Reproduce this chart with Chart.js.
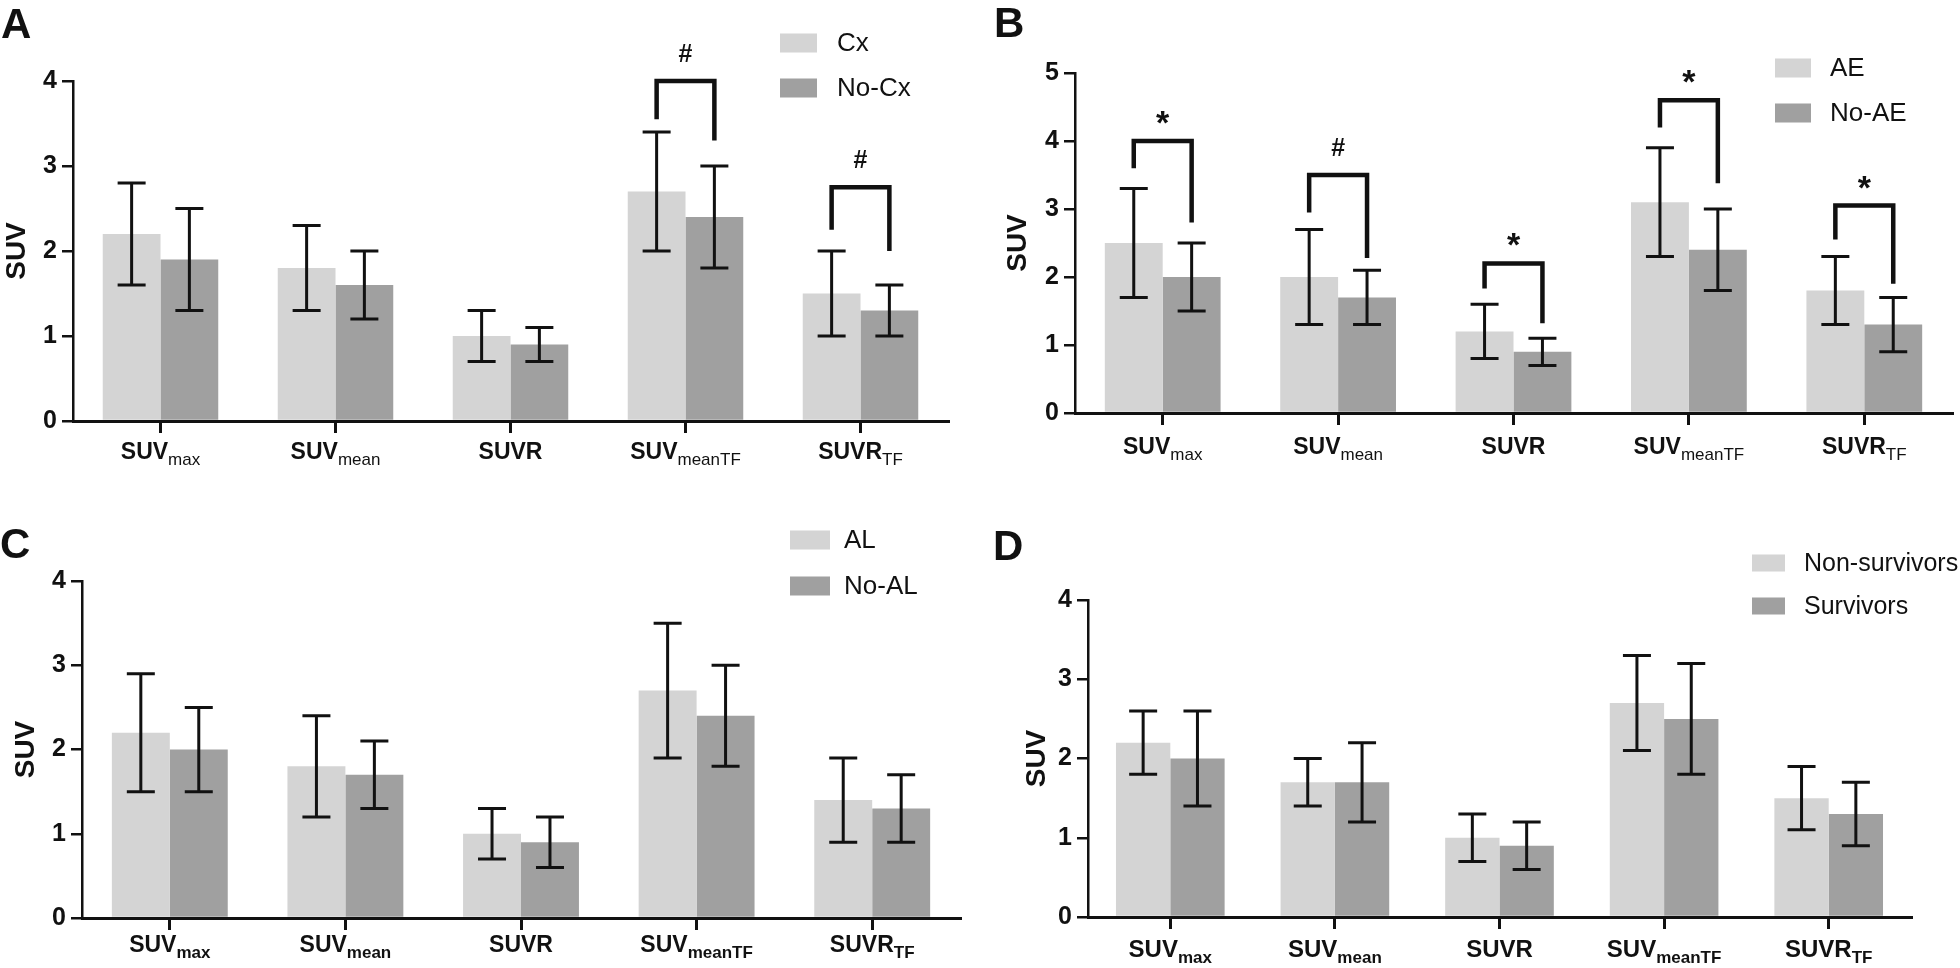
<!DOCTYPE html>
<html>
<head>
<meta charset="utf-8">
<script src="https://cdn.jsdelivr.net/npm/chart.js@4.4.0/dist/chart.umd.min.js"></script>
<style>
  body { margin: 0; background: #fff; width: 1960px; height: 968px; position: relative; overflow: hidden; }
  canvas { position: absolute; }
</style>
</head>
<body>
<canvas id="chart-a" width="980" height="484" style="left:0;top:0"></canvas>
<canvas id="chart-b" width="980" height="484" style="left:980px;top:0"></canvas>
<canvas id="chart-c" width="980" height="484" style="left:0;top:484px"></canvas>
<canvas id="chart-d" width="980" height="484" style="left:980px;top:484px"></canvas>
<script>
// x categories (main text + subscript)
const categories = ['SUV', 'SUV', 'SUVR', 'SUV', 'SUVR'];
const categorySubs = ['max', 'mean', '', 'meanTF', 'TF'];

// panel A
const cxMean = [2.2, 1.8, 1.0, 2.7, 1.5];
const cxSd = [0.6, 0.5, 0.3, 0.7, 0.5];
const noCxMean = [1.9, 1.6, 0.9, 2.4, 1.3];
const noCxSd = [0.6, 0.4, 0.2, 0.6, 0.3];
const cxBracketTop = [null, null, null, 4.0, 2.75];
const cxBracketLeft = [null, null, null, 3.55, 2.25];
const cxBracketRight = [null, null, null, 3.3, 2.0];
const cxMarks = ['', '', '', '#', '#'];

// panel B
const aeMean = [2.5, 2.0, 1.2, 3.1, 1.8];
const aeSd = [0.8, 0.7, 0.4, 0.8, 0.5];
const noAeMean = [2.0, 1.7, 0.9, 2.4, 1.3];
const noAeSd = [0.5, 0.4, 0.2, 0.6, 0.4];
const aeBracketTop = [4.0, 3.5, 2.2, 4.6, 3.05];
const aeBracketLeft = [3.6, 2.95, 1.83, 4.2, 2.55];
const aeBracketRight = [2.8, 2.28, 1.32, 3.38, 1.9];
const aeMarks = ['*', '#', '*', '*', '*'];

// panel C
const alMean = [2.2, 1.8, 1.0, 2.7, 1.4];
const alSd = [0.7, 0.6, 0.3, 0.8, 0.5];
const noAlMean = [2.0, 1.7, 0.9, 2.4, 1.3];
const noAlSd = [0.5, 0.4, 0.3, 0.6, 0.4];

// panel D
const nonSurvMean = [2.2, 1.7, 1.0, 2.7, 1.5];
const nonSurvSd = [0.4, 0.3, 0.3, 0.6, 0.4];
const survMean = [2.0, 1.7, 0.9, 2.5, 1.3];
const survSd = [0.6, 0.5, 0.3, 0.7, 0.4];

const LIGHT = '#d4d4d4';
const DARK = '#a0a0a0';
const INK = '#111';
const FONT = "'Liberation Sans', Arial, sans-serif";

Chart.defaults.font.family = FONT;
Chart.defaults.color = INK;

function decorPlugin(p) {
    return {
        id: 'decor',
        afterDatasetsDraw(chart) {
            const ctx = chart.ctx;
            const y = chart.scales.y;
            const x = chart.scales.x;
            const area = chart.chartArea;
            ctx.save();

            // error bars
            ctx.strokeStyle = INK;
            ctx.lineWidth = 3;
            chart.data.datasets.forEach((ds, i) => {
                chart.getDatasetMeta(i).data.forEach((bar, j) => {
                    const hi = y.getPixelForValue(ds.data[j] + ds.sd[j]);
                    const lo = y.getPixelForValue(ds.data[j] - ds.sd[j]);
                    ctx.beginPath();
                    ctx.moveTo(bar.x, hi); ctx.lineTo(bar.x, lo);
                    ctx.moveTo(bar.x - 14, hi); ctx.lineTo(bar.x + 14, hi);
                    ctx.moveTo(bar.x - 14, lo); ctx.lineTo(bar.x + 14, lo);
                    ctx.stroke();
                });
            });

            // significance brackets
            if (p.brackets) {
                const b = p.brackets;
                const m0 = chart.getDatasetMeta(0).data;
                const m1 = chart.getDatasetMeta(1).data;
                ctx.lineWidth = 4.5;
                ctx.lineJoin = 'miter';
                ctx.fillStyle = INK;
                ctx.textAlign = 'center';
                b.top.forEach((t, j) => {
                    if (t == null) return;
                    const xl = m0[j].x, xr = m1[j].x;
                    const yt = y.getPixelForValue(t);
                    ctx.beginPath();
                    ctx.moveTo(xl, y.getPixelForValue(b.left[j]));
                    ctx.lineTo(xl, yt);
                    ctx.lineTo(xr, yt);
                    ctx.lineTo(xr, y.getPixelForValue(b.right[j]));
                    ctx.stroke();
                    if (b.marks[j] === '*') {
                        ctx.font = 'bold 34px ' + FONT;
                        ctx.fillText('*', (xl + xr) / 2, yt - 7);
                    } else {
                        ctx.font = 'bold 25px ' + FONT;
                        ctx.fillText(b.marks[j], (xl + xr) / 2, yt - 19);
                    }
                });
            }

            // x labels with subscripts
            ctx.fillStyle = INK;
            ctx.textAlign = 'left';
            ctx.textBaseline = 'alphabetic';
            const mainFont = 'bold ' + p.xFont + 'px ' + FONT;
            const subFont = p.subWeight + ' ' + p.subFont + 'px ' + FONT;
            categories.forEach((lab, i) => {
                const cx = x.getPixelForValue(i);
                ctx.font = mainFont;
                const w1 = ctx.measureText(lab).width;
                ctx.font = subFont;
                const w2 = ctx.measureText(categorySubs[i]).width;
                const x0 = cx - (w1 + w2) / 2;
                const by = area.bottom + p.xLabelOffset;
                ctx.font = mainFont;
                ctx.fillText(lab, x0, by);
                ctx.font = subFont;
                ctx.fillText(categorySubs[i], x0 + w1, by + 6);
            });

            // legend
            const lg = p.legend;
            chart.data.datasets.forEach((ds, i) => {
                const cy = lg.y + i * lg.gap;
                ctx.fillStyle = ds.backgroundColor;
                ctx.fillRect(lg.boxX, cy - lg.boxH / 2, lg.boxW, lg.boxH);
                ctx.fillStyle = INK;
                ctx.font = lg.font + 'px ' + FONT;
                ctx.textBaseline = 'middle';
                ctx.fillText(ds.label, lg.textX, cy + 1);
            });

            // panel letter
            ctx.textBaseline = 'alphabetic';
            ctx.font = 'bold 42px ' + FONT;
            ctx.fillText(p.letter, p.letterX, p.letterY);
            ctx.restore();
        }
    };
}

function makePanel(id, p) {
    const canvas = document.getElementById(id);
    if (!canvas) return;
    new Chart(canvas, {
        type: 'bar',
        data: {
            labels: categories.map((c, i) => c + categorySubs[i]),
            datasets: p.series.map(s => ({
                label: s.label,
                data: s.mean,
                sd: s.sd,
                backgroundColor: s.color,
                borderWidth: 0,
                categoryPercentage: 0.66,
                barPercentage: 1.0
            }))
        },
        options: {
            responsive: false,
            animation: false,
            layout: { padding: { top: p.area.top, right: 980 - p.area.right, left: 0, bottom: 0 } },
            plugins: { legend: { display: false }, tooltip: { enabled: false } },
            scales: {
                x: {
                    z: 1,
                    offset: true,
                    grid: { offset: false, drawOnChartArea: false, drawTicks: true, tickLength: 12, color: INK, lineWidth: 3 },
                    border: { display: true, color: INK, width: 3 },
                    ticks: { display: false },
                    afterFit: s => { s.height = 484 - p.area.bottom; }
                },
                y: {
                    z: 1,
                    min: 0,
                    max: p.yMax,
                    grid: { drawOnChartArea: false, drawTicks: true, tickLength: 11, color: INK, lineWidth: 2.5 },
                    border: { display: true, color: INK, width: 2.5 },
                    ticks: { stepSize: 1, padding: 5, color: INK, font: { size: 25, weight: 'bold' } },
                    title: { display: true, text: 'SUV', color: INK, font: { size: 28, weight: 'bold' }, padding: { top: p.titlePad, bottom: 0 } },
                    afterFit: s => { s.width = p.area.left; }
                }
            }
        },
        plugins: [decorPlugin(p)]
    });
}

makePanel('chart-a', {
    series: [
        { label: 'Cx', mean: cxMean, sd: cxSd, color: LIGHT },
        { label: 'No-Cx', mean: noCxMean, sd: noCxSd, color: DARK }
    ],
    yMax: 4,
    area: { left: 73, right: 948, top: 81, bottom: 421 },
    titlePad: 0,
    brackets: { top: cxBracketTop, left: cxBracketLeft, right: cxBracketRight, marks: cxMarks },
    xFont: 23, subFont: 17, subWeight: 'normal', xLabelOffset: 38,
    legend: { boxX: 780, boxW: 37, boxH: 19, y: 43, gap: 45, textX: 837, font: 26 },
    letter: 'A', letterX: 1, letterY: 38
});

makePanel('chart-b', {
    series: [
        { label: 'AE', mean: aeMean, sd: aeSd, color: LIGHT },
        { label: 'No-AE', mean: noAeMean, sd: noAeSd, color: DARK }
    ],
    yMax: 5,
    area: { left: 95, right: 972, top: 73, bottom: 413 },
    titlePad: 21,
    brackets: { top: aeBracketTop, left: aeBracketLeft, right: aeBracketRight, marks: aeMarks },
    xFont: 23, subFont: 17, subWeight: 'normal', xLabelOffset: 41,
    legend: { boxX: 795, boxW: 36, boxH: 19, y: 68, gap: 45, textX: 850, font: 26 },
    letter: 'B', letterX: 14, letterY: 37
});

makePanel('chart-c', {
    series: [
        { label: 'AL', mean: alMean, sd: alSd, color: LIGHT },
        { label: 'No-AL', mean: noAlMean, sd: noAlSd, color: DARK }
    ],
    yMax: 4,
    area: { left: 82, right: 960, top: 97, bottom: 434 },
    titlePad: 9,
    xFont: 23, subFont: 17, subWeight: 'bold', xLabelOffset: 34,
    legend: { boxX: 790, boxW: 40, boxH: 19, y: 56, gap: 46, textX: 844, font: 26 },
    letter: 'C', letterX: 0, letterY: 74
});

makePanel('chart-d', {
    series: [
        { label: 'Non-survivors', mean: nonSurvMean, sd: nonSurvSd, color: LIGHT },
        { label: 'Survivors', mean: survMean, sd: survSd, color: DARK }
    ],
    yMax: 4,
    area: { left: 108, right: 931, top: 116, bottom: 433 },
    titlePad: 40,
    xFont: 24, subFont: 17, subWeight: 'bold', xLabelOffset: 40,
    legend: { boxX: 772, boxW: 33, boxH: 17, y: 79, gap: 43, textX: 824, font: 25 },
    letter: 'D', letterX: 13, letterY: 76
});
</script>
</body>
</html>
